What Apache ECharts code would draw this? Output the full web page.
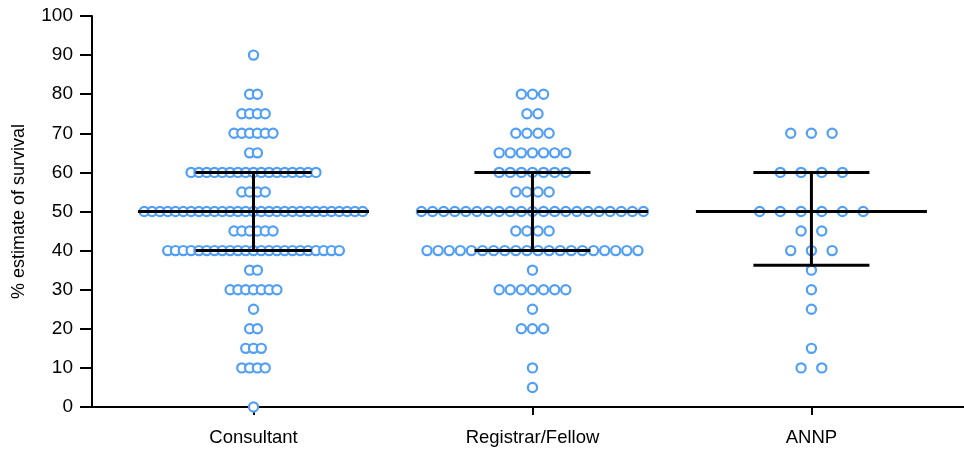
<!DOCTYPE html>
<html>
<head>
<meta charset="utf-8">
<script src="https://cdn.jsdelivr.net/npm/echarts@6/dist/echarts.min.js"></script>
<style>html,body{margin:0;padding:0;background:#fff}#c{width:964px;height:450px}</style>
</head>
<body>
<div id="c"></div>
<script>
const categories = ['Consultant', 'Registrar/Fellow', 'ANNP'];
const scoreLevels = [0, 5, 10, 15, 20, 25, 30, 35, 40, 45, 50, 55, 60, 65, 70, 75, 80, 85, 90];
const consultantCounts = [1, 0, 4, 3, 2, 1, 7, 2, 23, 6, 29, 4, 17, 2, 6, 4, 2, 0, 1];
const registrarCounts  = [0, 1, 1, 0, 3, 1, 7, 1, 20, 4, 21, 4, 7, 7, 4, 2, 3, 0, 0];
const annpCounts       = [0, 0, 2, 1, 0, 1, 1, 1, 3, 2, 6, 0, 4, 0, 3, 0, 0, 0, 0];
const yTicks = [0, 10, 20, 30, 40, 50, 60, 70, 80, 90, 100];

// layout settings (not data)
const X_MIN = -0.579, X_MAX = 2.547;
const GRID = {left: 92, right: 0, top: 16, bottom: 43};
const dotSpacingPx = [7.8, 11.1, 20.7];
const FONT = 'Liberation Sans, Arial, Helvetica, sans-serif';
const DOT_COLOR = '#529ff8';

const groups = [consultantCounts, registrarCounts, annpCounts];
const pxPerUnit = (964 - GRID.left - GRID.right) / (X_MAX - X_MIN);

function expand(counts) {
  const v = [];
  counts.forEach((c, i) => { for (let k = 0; k < c; k++) v.push(scoreLevels[i]); });
  return v;
}
function quantile(sorted, p) {
  const n = sorted.length;
  let pos = p * (n + 1);
  if (pos < 1) pos = 1;
  if (pos > n) pos = n;
  const lo = Math.floor(pos), frac = pos - lo;
  const a = sorted[lo - 1], b = sorted[Math.min(lo, n - 1)];
  return a + frac * (b - a);
}

const dots = [];
const stats = [];
groups.forEach((counts, gi) => {
  const sp = dotSpacingPx[gi] / pxPerUnit;
  counts.forEach((c, li) => {
    for (let k = 0; k < c; k++) {
      dots.push([gi + (k - (c - 1) / 2) * sp, scoreLevels[li]]);
    }
  });
  const vals = expand(counts).sort((a, b) => a - b);
  stats.push([gi, quantile(vals, 0.25), quantile(vals, 0.5), quantile(vals, 0.75)]);
});

const chart = echarts.init(document.getElementById('c'), null, {renderer: 'canvas'});
const medHalf = 115.5 / pxPerUnit, qHalf = 58 / pxPerUnit;

chart.setOption({
  animation: false,
  backgroundColor: '#fff',
  grid: GRID,
  xAxis: {
    type: 'value', min: X_MIN, max: X_MAX,
    splitLine: {show: false},
    axisLine: {show: true, onZero: false, lineStyle: {color: '#000', width: 2}},
    axisTick: {show: true, customValues: [0, 1, 2], length: 8, lineStyle: {color: '#000', width: 2}},
    axisLabel: {
      customValues: [0, 1, 2], margin: 21,
      formatter: v => categories[Math.round(v)] || '',
      color: '#000', fontSize: 18.5, fontFamily: FONT
    }
  },
  yAxis: {
    type: 'value', min: 0, max: 100, interval: 10,
    name: '% estimate of survival', nameLocation: 'middle', nameGap: 64,
    nameTextStyle: {color: '#000', fontSize: 18, fontFamily: FONT},
    splitLine: {show: false},
    axisLine: {show: true, onZero: false, lineStyle: {color: '#000', width: 2}},
    axisTick: {show: true, length: 12, lineStyle: {color: '#000', width: 2}},
    axisLabel: {
      margin: 19, color: '#000', fontSize: 19, fontFamily: FONT,
      formatter: v => yTicks.includes(v) ? String(v) : ''
    }
  },
  series: [
    {
      type: 'scatter', data: dots, symbol: 'circle', symbolSize: 9.2,
      itemStyle: {color: '#fff', borderColor: DOT_COLOR, borderWidth: 2.2, opacity: 1},
      z: 2
    },
    {
      type: 'custom', z: 5, data: stats,
      renderItem: function (params, api) {
        const g = api.value(0), q1 = api.value(1), med = api.value(2), q3 = api.value(3);
        const st = {stroke: '#000', lineWidth: 3};
        const L = (x1, y1, x2, y2) => {
          const a = api.coord([x1, y1]), b = api.coord([x2, y2]);
          return {type: 'line', shape: {x1: a[0], y1: a[1], x2: b[0], y2: b[1]}, style: st};
        };
        return {type: 'group', children: [
          L(g, q1, g, q3),
          L(g - medHalf, med, g + medHalf, med),
          L(g - qHalf, q1, g + qHalf, q1),
          L(g - qHalf, q3, g + qHalf, q3)
        ]};
      }
    }
  ]
});
</script>
</body>
</html>
